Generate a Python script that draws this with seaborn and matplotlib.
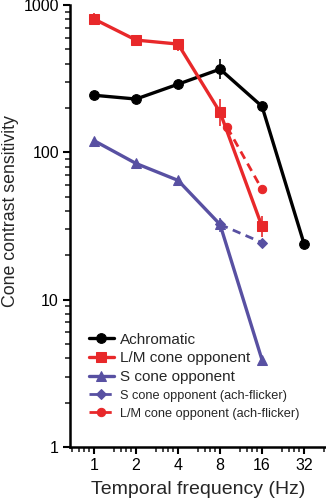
import numpy as np
import pandas as pd
import matplotlib
matplotlib.use("Agg")
import matplotlib.pyplot as plt
import matplotlib.ticker as mticker
import seaborn as sns

freqs = [1, 2, 4, 8, 16, 32]
achromatic = [244, 230, 290, 367, 205, 24]
lm_freqs = [1, 2, 4, 8, 16]
lm_opponent = [803, 578, 543, 187, 31.4]
s_freqs = [1, 2, 4, 8, 16]
s_opponent = [120, 84, 64.5, 32.4, 3.9]
s_ach_freqs = [8, 16]
s_ach_flicker = [32.4, 24.4]
lm_ach_freqs = [9, 16]
lm_ach_flicker = [148, 56]

# error bars (lower, upper)
ach_err_f = [8]
ach_err_lo = [314]
ach_err_hi = [429]
lm_err_lo = [731, 540, 486, 150, 26.8]
lm_err_hi = [883, 600, 587, 230, 36.7]
s_err_f = [8]
s_err_lo = [29]
s_err_hi = [36]

labels = ["Achromatic", "L/M cone opponent", "S cone opponent",
          "S cone opponent (ach-flicker)", "L/M cone opponent (ach-flicker)"]

sns.set_style("ticks")
plt.rcParams['font.family'] = ['Liberation Sans', 'DejaVu Sans']

RED = '#e8282a'
BLUE = '#5850a2'

fig = plt.figure(figsize=(3.26, 5.0), dpi=100)
ax = fig.add_axes([0.215, 0.106, 0.785, 0.884])

lw = 2.4
sns.lineplot(x=freqs, y=achromatic, ax=ax, color='black', marker='o', markersize=7,
             markeredgecolor='black', lw=lw, label=labels[0])
sns.lineplot(x=lm_freqs, y=lm_opponent, ax=ax, color=RED, marker='s', markersize=7,
             markeredgecolor=RED, lw=lw, label=labels[1])
sns.lineplot(x=s_freqs, y=s_opponent, ax=ax, color=BLUE, marker='^', markersize=7,
             markeredgecolor=BLUE, lw=lw, label=labels[2])
sns.lineplot(x=s_ach_freqs, y=s_ach_flicker, ax=ax, color=BLUE, marker='D', markersize=5,
             markeredgecolor=BLUE, lw=2.0, linestyle=(0, (3, 2)), label=labels[3])
sns.lineplot(x=lm_ach_freqs, y=lm_ach_flicker, ax=ax, color=RED, marker='o', markersize=6,
             markeredgecolor=RED, lw=2.0, linestyle=(0, (3, 2)), label=labels[4])

ax.vlines(ach_err_f, ach_err_lo, ach_err_hi, color='black', lw=1.2)
ax.vlines(lm_freqs, lm_err_lo, lm_err_hi, color=RED, lw=1.2)
ax.vlines(s_err_f, s_err_lo, s_err_hi, color=BLUE, lw=1.2)

ax.set_xscale('log', base=2)
ax.set_yscale('log')
ax.set_xlim(0.673, 46)
ax.set_ylim(1, 1000)

ax.xaxis.set_major_locator(mticker.FixedLocator(freqs))
ax.xaxis.set_major_formatter(mticker.FixedFormatter([str(f) for f in freqs]))
ax.xaxis.set_minor_locator(mticker.LogLocator(base=2, subs=[1.4, 1.55, 1.7, 1.85], numticks=20))
ax.xaxis.set_minor_formatter(mticker.NullFormatter())
ax.yaxis.set_major_locator(mticker.FixedLocator([1, 10, 100, 1000]))
ax.yaxis.set_major_formatter(mticker.FixedFormatter(['1', '10', '100', '1000']))
ax.yaxis.set_minor_locator(mticker.LogLocator(base=10, subs=np.arange(2, 10), numticks=20))
ax.yaxis.set_minor_formatter(mticker.NullFormatter())

ax.tick_params(axis='both', which='major', direction='out', length=5, width=1.5,
               labelsize=11.5, colors='black', pad=3)
ax.tick_params(axis='both', which='minor', direction='out', length=3.5, width=1.2)

for s in ['top', 'right']:
    ax.spines[s].set_visible(False)
for s in ['left', 'bottom']:
    ax.spines[s].set_linewidth(1.8)
    ax.spines[s].set_color('black')

ax.set_xlabel('Temporal frequency (Hz)', fontsize=14, labelpad=6)
ax.set_ylabel('Cone contrast sensitivity', fontsize=12.8, va='center', ha='center')
ax.yaxis.set_label_coords(-0.232, 0.534)

leg = ax.legend(loc='lower left', bbox_to_anchor=(0.073, 0.06), frameon=False,
                handlelength=1.65, handletextpad=0.4, labelspacing=0.3,
                borderpad=0, borderaxespad=0, fontsize=11)
for t in leg.get_texts()[3:]:
    t.set_fontsize(9.2)

fig.savefig('out.png', dpi=100)
